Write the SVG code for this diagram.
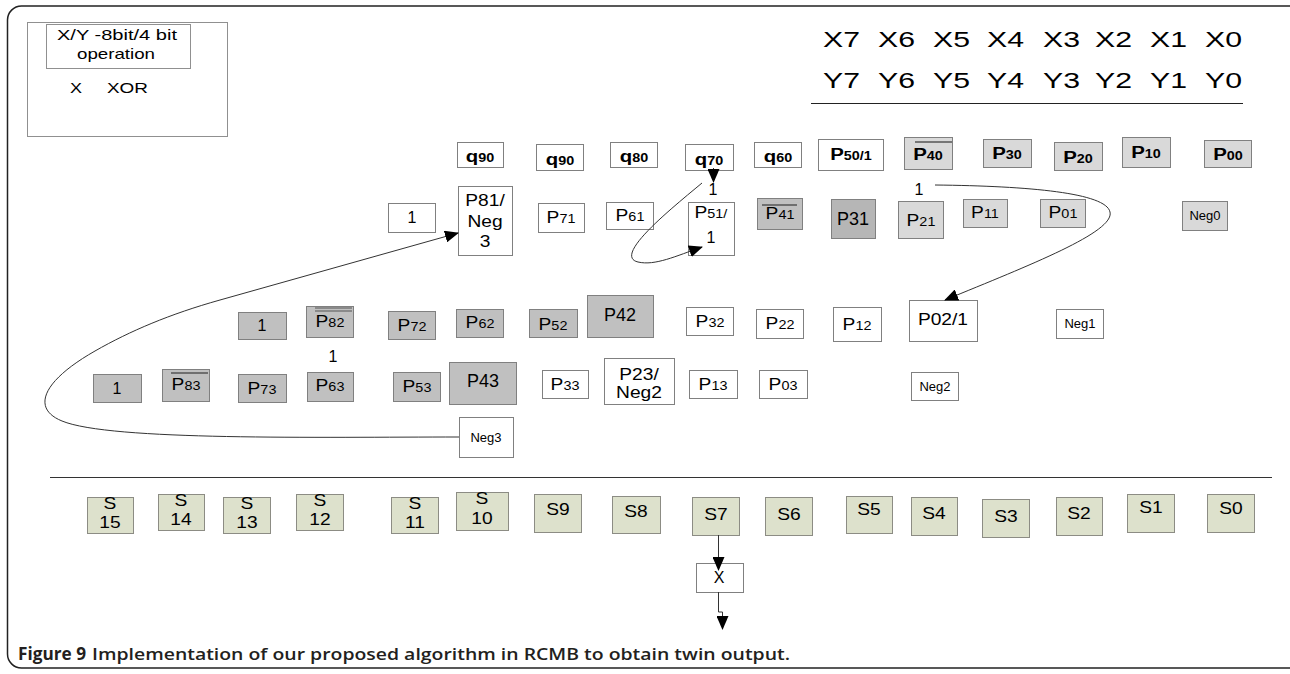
<svg xmlns="http://www.w3.org/2000/svg" width="1290" height="674" viewBox="0 0 1290 674">
<style>
text{font-family:"Liberation Sans",Arial,sans-serif;fill:#000}
.t{text-anchor:middle;font-size:16px}
.sx{transform-box:fill-box;transform-origin:center;transform:scaleX(1.2)}
.bd{font-weight:bold}
.q{font-size:17px}
.sb{font-size:12px}
.sbb{font-size:12px}
.big{font-size:18px}
.ng{font-size:13px}
.w{fill:#fff;stroke:#808080;stroke-width:1}
.lg{fill:#d9d9d9;stroke:#808080;stroke-width:1}
.dg{fill:#c0c0c0;stroke:#808080;stroke-width:1}
.dk{fill:#b6b6b6;stroke:#808080;stroke-width:1}
.s{fill:#dde1cc;stroke:#8c8c84;stroke-width:1}
.ov{stroke:#555;stroke-width:1.5;fill:none}
.cn{fill:none;stroke:#333;stroke-width:1}
.cap{font-family:"Open Sans","Liberation Sans",sans-serif;font-size:17px;fill:#231f20}
</style>
<defs>
<marker id="ah" viewBox="0 0 14 12" refX="13" refY="6" markerWidth="14" markerHeight="12" markerUnits="userSpaceOnUse" orient="auto">
<path d="M0,0 L14,6 L0,12 z" fill="#000"/>
</marker>
</defs>
<rect x="7.5" y="6" width="1320" height="662" rx="14" fill="#fff" stroke="#222" stroke-width="1.5"/>

<g id="legend">
<rect x="27.5" y="22.5" width="200" height="114" fill="none" stroke="#909090"/>
<rect x="46.5" y="24.5" width="144" height="44" fill="none" stroke="#909090"/>
<text x="57" y="40" font-size="15" textLength="120" lengthAdjust="spacingAndGlyphs">X/Y -8bit/4 bit</text>
<text x="77" y="59" font-size="15" textLength="78" lengthAdjust="spacingAndGlyphs">operation</text>
<text x="70" y="93" font-size="15" textLength="12" lengthAdjust="spacingAndGlyphs">X</text>
<text x="107" y="93" font-size="15" textLength="41" lengthAdjust="spacingAndGlyphs">XOR</text>
</g>

<g id="xy-header" font-size="22">
<text x="823" y="47" textLength="37" lengthAdjust="spacingAndGlyphs">X7</text>
<text x="878" y="47" textLength="37" lengthAdjust="spacingAndGlyphs">X6</text>
<text x="933" y="47" textLength="37" lengthAdjust="spacingAndGlyphs">X5</text>
<text x="987" y="47" textLength="37" lengthAdjust="spacingAndGlyphs">X4</text>
<text x="1043" y="47" textLength="37" lengthAdjust="spacingAndGlyphs">X3</text>
<text x="1095" y="47" textLength="37" lengthAdjust="spacingAndGlyphs">X2</text>
<text x="1150" y="47" textLength="37" lengthAdjust="spacingAndGlyphs">X1</text>
<text x="1205" y="47" textLength="37" lengthAdjust="spacingAndGlyphs">X0</text>
<text x="823" y="88" textLength="37" lengthAdjust="spacingAndGlyphs">Y7</text>
<text x="878" y="88" textLength="37" lengthAdjust="spacingAndGlyphs">Y6</text>
<text x="933" y="88" textLength="37" lengthAdjust="spacingAndGlyphs">Y5</text>
<text x="987" y="88" textLength="37" lengthAdjust="spacingAndGlyphs">Y4</text>
<text x="1043" y="88" textLength="37" lengthAdjust="spacingAndGlyphs">Y3</text>
<text x="1095" y="88" textLength="37" lengthAdjust="spacingAndGlyphs">Y2</text>
<text x="1150" y="88" textLength="37" lengthAdjust="spacingAndGlyphs">Y1</text>
<text x="1205" y="88" textLength="37" lengthAdjust="spacingAndGlyphs">Y0</text>
<line x1="811" y1="103.5" x2="1243" y2="103.5" stroke="#222" stroke-width="1"/>
</g>

<line id="separator" x1="50" y1="477.5" x2="1272" y2="477.5" stroke="#333" stroke-width="1.2"/>

<!-- row 1 -->
<g id="q90a"><rect class="w" x="457.5" y="142.5" width="46" height="25"/><text class="t sx bd q" x="480" y="162">q<tspan class="sbb">90</tspan></text></g>
<g id="q90b"><rect class="w" x="536.5" y="144.5" width="47" height="26"/><text class="t sx bd q" x="560" y="165">q<tspan class="sbb">90</tspan></text></g>
<g id="q80"><rect class="w" x="610.5" y="142.5" width="47" height="25"/><text class="t sx bd q" x="634" y="162">q<tspan class="sbb">80</tspan></text></g>
<g id="q70"><rect class="w" x="685.5" y="144.5" width="48" height="26"/><text class="t sx bd q" x="709" y="165">q<tspan class="sbb">70</tspan></text></g>
<g id="q60"><rect class="w" x="754.5" y="142.5" width="47" height="25"/><text class="t sx bd q" x="778" y="162">q<tspan class="sbb">60</tspan></text></g>
<g id="P50"><rect class="w" x="818.5" y="139.5" width="65" height="31"/><text class="t sx bd q" x="851" y="160">P<tspan class="sbb">50/1</tspan></text></g>
<g id="P40"><rect class="lg" x="904.5" y="137.5" width="48" height="32"/><line class="ov" x1="915" y1="142" x2="952" y2="142"/><text class="t sx bd q" x="928" y="160">P<tspan class="sbb">40</tspan></text></g>
<g id="P30"><rect class="lg" x="983.5" y="139.5" width="48" height="28"/><text class="t sx bd q" x="1007" y="159">P<tspan class="sbb">30</tspan></text></g>
<g id="P20"><rect class="lg" x="1054.5" y="142.5" width="48" height="28"/><text class="t sx bd q" x="1078" y="163">P<tspan class="sbb">20</tspan></text></g>
<g id="P10"><rect class="lg" x="1122.5" y="137.5" width="48" height="30"/><text class="t sx bd q" x="1146" y="158">P<tspan class="sbb">10</tspan></text></g>
<g id="P00"><rect class="lg" x="1204.5" y="140.5" width="47" height="27"/><text class="t sx bd q" x="1228" y="160">P<tspan class="sbb">00</tspan></text></g>

<!-- row 2 -->
<g id="one-r2"><rect class="w" x="388.5" y="203.5" width="47" height="29"/><text class="t" x="412" y="223">1</text></g>
<g id="P81"><rect class="w" x="458.5" y="186.5" width="54" height="69"/><text class="t sx" x="485" y="206" font-size="17">P81/</text><text class="t sx" x="485" y="227" font-size="17">Neg</text><text class="t sx" x="485" y="247" font-size="17">3</text></g>
<g id="P71"><rect class="w" x="538.5" y="203.5" width="46" height="29"/><text class="t sx" x="561" y="223">P<tspan class="sb">71</tspan></text></g>
<g id="P61"><rect class="w" x="606.5" y="202.5" width="47" height="27"/><text class="t sx" x="630" y="221">P<tspan class="sb">61</tspan></text></g>
<g id="P51"><rect class="w" x="688.5" y="202.5" width="46" height="53"/><text class="t sx" x="711" y="218">P<tspan class="sb">51/</tspan></text><text class="t" x="711" y="243" font-size="11">1</text></g>
<g id="P41"><rect class="dg" x="757.5" y="198.5" width="45" height="31"/><line class="ov" x1="762" y1="205" x2="797" y2="205"/><text class="t sx" x="780" y="219">P<tspan class="sb">41</tspan></text></g>
<g id="P31"><rect class="dk" x="831.5" y="199.5" width="44" height="39"/><text class="t big" x="853" y="225">P31</text></g>
<g id="P21"><rect class="lg" x="898.5" y="201.5" width="45" height="37"/><text class="t sx" x="921" y="226">P<tspan class="sb">21</tspan></text></g>
<g id="P11"><rect class="lg" x="963.5" y="199.5" width="44" height="28"/><text class="t sx" x="985" y="218">P<tspan class="sb">11</tspan></text></g>
<g id="P01"><rect class="lg" x="1040.5" y="199.5" width="45" height="28"/><text class="t sx" x="1063" y="218">P<tspan class="sb">01</tspan></text></g>
<g id="Neg0"><rect class="lg" x="1182.5" y="201.5" width="45" height="29"/><text class="t ng" x="1205" y="220">Neg0</text></g>

<!-- row 3 -->
<g id="one-r3"><rect class="dg" x="238.5" y="312.5" width="48" height="27"/><text class="t" x="262" y="331">1</text></g>
<g id="P82"><rect class="dg" x="306.5" y="306.5" width="47" height="31"/><line x1="315" y1="308" x2="352" y2="308" stroke="#555" stroke-width="1"/><line x1="315" y1="311" x2="352" y2="311" stroke="#555" stroke-width="1"/><text class="t sx" x="330" y="327">P<tspan class="sb">82</tspan></text></g>
<g id="P72"><rect class="dg" x="388.5" y="311.5" width="47" height="28"/><text class="t sx" x="412" y="331">P<tspan class="sb">72</tspan></text></g>
<g id="P62"><rect class="dg" x="456.5" y="309.5" width="47" height="28"/><text class="t sx" x="480" y="328">P<tspan class="sb">62</tspan></text></g>
<g id="P52"><rect class="dg" x="529.5" y="309.5" width="48" height="28"/><text class="t sx" x="553" y="330">P<tspan class="sb">52</tspan></text></g>
<g id="P42"><rect class="dg" x="587.5" y="295.5" width="66" height="42"/><text class="t big" x="620" y="321">P42</text></g>
<g id="P32"><rect class="w" x="686.5" y="307.5" width="47" height="28"/><text class="t sx" x="710" y="327">P<tspan class="sb">32</tspan></text></g>
<g id="P22"><rect class="w" x="756.5" y="309.5" width="47" height="29"/><text class="t sx" x="780" y="329">P<tspan class="sb">22</tspan></text></g>
<g id="P12"><rect class="w" x="833.5" y="307.5" width="48" height="34"/><text class="t sx" x="857" y="330">P<tspan class="sb">12</tspan></text></g>
<g id="P02"><rect class="w" x="909.5" y="300.5" width="68" height="41"/><text class="t sx" x="943" y="325" font-size="17">P02/1</text></g>
<g id="Neg1"><rect class="w" x="1056.5" y="309.5" width="47" height="29"/><text class="t ng" x="1080" y="328">Neg1</text></g>

<!-- row 4 -->
<g id="one-r4"><rect class="dg" x="93.5" y="374.5" width="48" height="28"/><text class="t" x="117" y="394">1</text></g>
<g id="P83"><rect class="dg" x="162.5" y="369.5" width="47" height="32"/><line class="ov" x1="171" y1="373" x2="208" y2="373"/><text class="t sx" x="186" y="390">P<tspan class="sb">83</tspan></text></g>
<g id="P73"><rect class="dg" x="238.5" y="374.5" width="48" height="28"/><text class="t sx" x="262" y="394">P<tspan class="sb">73</tspan></text></g>
<g id="P63"><rect class="dg" x="307.5" y="372.5" width="46" height="29"/><text class="t sx" x="330" y="391">P<tspan class="sb">63</tspan></text></g>
<g id="P53"><rect class="dg" x="393.5" y="372.5" width="47" height="29"/><text class="t sx" x="417" y="392">P<tspan class="sb">53</tspan></text></g>
<g id="P43"><rect class="dg" x="449.5" y="362.5" width="67" height="42"/><text class="t big" x="483" y="387">P43</text></g>
<g id="P33"><rect class="w" x="542.5" y="370.5" width="46" height="28"/><text class="t sx" x="565" y="390">P<tspan class="sb">33</tspan></text></g>
<g id="P23"><rect class="w" x="604.5" y="358.5" width="70" height="46"/><text class="t sx" x="639" y="380" font-size="17">P23/</text><text class="t sx" x="639" y="398" font-size="17">Neg2</text></g>
<g id="P13"><rect class="w" x="689.5" y="370.5" width="48" height="28"/><text class="t sx" x="713" y="390">P<tspan class="sb">13</tspan></text></g>
<g id="P03"><rect class="w" x="759.5" y="370.5" width="48" height="28"/><text class="t sx" x="783" y="390">P<tspan class="sb">03</tspan></text></g>
<g id="Neg2"><rect class="w" x="911.5" y="372.5" width="47" height="28"/><text class="t ng" x="935" y="391">Neg2</text></g>
<g id="Neg3"><rect class="w" x="459.5" y="417.5" width="54" height="40"/><text class="t ng" x="486" y="442">Neg3</text></g>

<!-- labels -->
<g id="labels">
<text class="t" x="713" y="195">1</text>
<text class="t" x="919" y="195">1</text>
<text class="t" x="333" y="362">1</text>
</g>

<!-- S row -->
<g id="S15"><rect class="s" x="87.5" y="497.5" width="46" height="36"/><text class="t sx" x="110" y="509">S</text><text class="t sx" x="110" y="528">15</text></g>
<g id="S14"><rect class="s" x="158.5" y="494.5" width="46" height="36"/><text class="t sx" x="181" y="506">S</text><text class="t sx" x="181" y="525">14</text></g>
<g id="S13"><rect class="s" x="223.5" y="497.5" width="47" height="36"/><text class="t sx" x="247" y="509">S</text><text class="t sx" x="247" y="528">13</text></g>
<g id="S12"><rect class="s" x="296.5" y="494.5" width="47" height="36"/><text class="t sx" x="320" y="506">S</text><text class="t sx" x="320" y="525">12</text></g>
<g id="S11"><rect class="s" x="391.5" y="497.5" width="47" height="36"/><text class="t sx" x="415" y="509">S</text><text class="t sx" x="415" y="528">11</text></g>
<g id="S10"><rect class="s" x="456.5" y="492.5" width="52" height="38"/><text class="t sx" x="482" y="504">S</text><text class="t sx" x="482" y="524">10</text></g>
<g id="S9"><rect class="s" x="534.5" y="494.5" width="47" height="38"/><text class="t sx" x="558" y="515">S9</text></g>
<g id="S8"><rect class="s" x="612.5" y="496.5" width="48" height="37"/><text class="t sx" x="636" y="517">S8</text></g>
<g id="S7"><rect class="s" x="692.5" y="497.5" width="47" height="38"/><text class="t sx" x="716" y="520">S7</text></g>
<g id="S6"><rect class="s" x="765.5" y="497.5" width="47" height="38"/><text class="t sx" x="789" y="520">S6</text></g>
<g id="S5"><rect class="s" x="846.5" y="496.5" width="46" height="37"/><text class="t sx" x="869" y="515">S5</text></g>
<g id="S4"><rect class="s" x="911.5" y="497.5" width="46" height="38"/><text class="t sx" x="934" y="519">S4</text></g>
<g id="S3"><rect class="s" x="982.5" y="499.5" width="47" height="38"/><text class="t sx" x="1006" y="522">S3</text></g>
<g id="S2"><rect class="s" x="1056.5" y="497.5" width="46" height="38"/><text class="t sx" x="1079" y="519">S2</text></g>
<g id="S1"><rect class="s" x="1127.5" y="494.5" width="47" height="38"/><text class="t sx" x="1151" y="513">S1</text></g>
<g id="S0"><rect class="s" x="1207.5" y="494.5" width="47" height="38"/><text class="t sx" x="1231" y="514">S0</text></g>

<g id="xor"><rect class="w" x="696.5" y="563.5" width="47" height="29"/><text class="t" x="719" y="583" font-size="12">X</text></g>

<g id="connectors">
<path class="cn" d="M713.5,168 V182" marker-end="url(#ah)"/>
<path class="cn" d="M702,183 C672,208 612,256 638,262 C655,266 676,256 702,247" marker-end="url(#ah)"/>
<path class="cn" d="M935,185 C1030,186 1106,193 1110,212 C1115,232 1030,265 945,300" marker-end="url(#ah)"/>
<path class="cn" d="M459,437 C320,437 110,441 62,421 C30,408 44,380 95,351 C130,331 170,314 220,300 L458,233" marker-end="url(#ah)"/>
<path class="cn" d="M718.5,535 V570" marker-end="url(#ah)"/>
<path class="cn" d="M718.5,592 V612 H722.5 V629" marker-end="url(#ah)"/>
</g>

<g id="caption">
<text class="cap" x="18" y="660" font-weight="bold" textLength="68" lengthAdjust="spacingAndGlyphs">Figure 9</text>
<text class="cap" x="92" y="660" font-weight="600" textLength="698" lengthAdjust="spacingAndGlyphs">Implementation of our proposed algorithm in RCMB to obtain twin output.</text>
</g>
</svg>
